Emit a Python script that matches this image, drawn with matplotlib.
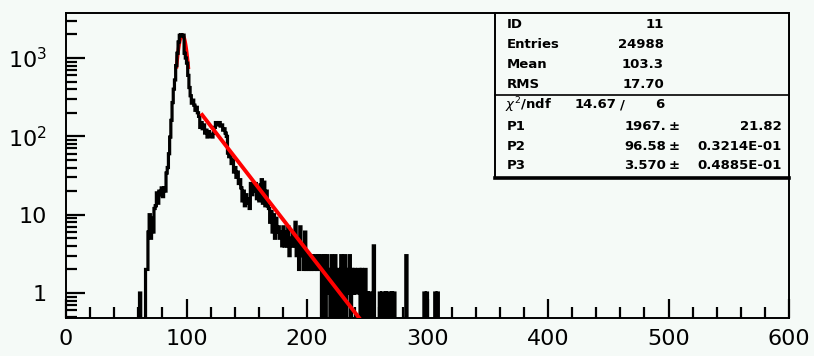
import matplotlib
matplotlib.use("Agg")
import matplotlib.pyplot as plt
import numpy as np
from matplotlib.patches import Rectangle
from matplotlib.ticker import FixedLocator, MultipleLocator, NullFormatter

# histogram: 1-unit bins starting at bin_lo, all other bins of 0..600 are empty
x_range = (0, 600)
bin_lo = 60
counts = [
    0, 1, 0, 0, 0, 0, 2, 2, 6, 10,                                # 60
    5, 9, 6, 12, 13, 19, 14, 20, 18, 22,                          # 70
    17, 22, 20, 34, 40, 60, 98, 160, 270, 400,                    # 80
    525, 800, 1150, 1600, 1950, 1980, 1900, 1960, 1150, 1000,     # 90
    860, 600, 420, 330, 265, 290, 250, 215, 235, 200,             # 100
    180, 130, 150, 125, 140, 110, 120, 98, 115, 100,              # 110
    105, 98, 110, 130, 150, 140, 145, 150, 135, 140,              # 120
    120, 125, 110, 100, 61, 55, 60, 45, 50, 35,                   # 130
    40, 30, 35, 25, 28, 22, 15, 20, 13, 18,                       # 140
    14, 16, 12, 25, 18, 24, 20, 25, 16, 22,                       # 150
    15, 24, 28, 14, 26, 13, 20, 13, 12, 8,                        # 160
    11, 6, 10, 5, 9, 6, 7, 5, 6, 4,                               # 170
    7, 4, 6, 4, 7, 3, 5, 4, 6, 4,                                 # 180
    8, 3, 5, 2, 7, 3, 4, 2, 6, 2,                                 # 190
    3, 2, 3, 2, 3, 2, 2, 3, 2, 3,                                 # 200
    2, 3, 0, 2, 3, 0, 3, 1, 2, 0,                                 # 210
    3, 0, 2, 3, 0, 2, 1, 0, 3, 0,                                 # 220
    2, 3, 0, 2, 1, 3, 0, 2, 1, 2,                                 # 230
    1, 1, 2, 2, 0, 2, 1, 0, 2, 0,                                 # 240
    1, 0, 1, 1, 0, 4, 0, 0, 0, 0,                                 # 250
    1, 0, 1, 1, 0, 1, 0, 1, 1, 0,                                 # 260
    1, 0, 1, 0, 0, 0, 0, 0, 0, 0,                                 # 270
    0, 0, 3, 0, 0, 0, 0, 0, 0, 0,                                 # 280
    0, 0, 0, 0, 0, 0, 0, 1, 0, 1,                                 # 290
    0, 0, 0, 0, 0, 0, 1, 0, 1, 0,                                 # 300
]

# fits: gaussian (parameters of the stats box) and the exponential tail line
gaus_p = (1967.0, 96.58, 3.570)
gaus_range = (91.7, 101.5)
expo_p = (10.41, -0.0458)   # ln(counts) = a + b*x
expo_range = (113.0, 250.0)

stats_rows = [("ID", "11"), ("Entries", "24988"), ("Mean", "103.3"), ("RMS", "17.70")]
chi2_ndf = ("14.67", "6")
par_rows = [("P1", "1967.", "21.82"),
            ("P2", "96.58", "0.3214E-01"),
            ("P3", "3.570", "0.4885E-01")]

BG = "#f5faf7"
W, H = 814, 356


def px(x, y):
    """pixel position (from top-left) -> figure fraction"""
    return x / W, 1 - y / H


fig = plt.figure(figsize=(W / 100, H / 100), dpi=100, facecolor=BG)
ax = fig.add_axes([66 / W, 1 - 318 / H, (789 - 66) / W, (318 - 13) / H])
ax.set_facecolor(BG)

nbins = x_range[1] - x_range[0]
vals = np.zeros(nbins)
vals[bin_lo:bin_lo + len(counts)] = counts
edges = np.arange(x_range[0], x_range[1] + 1)

# gaussian sits under the histogram (only its flanks show), exponential on top
xg = np.linspace(*gaus_range, 60)
ax.plot(xg, gaus_p[0] * np.exp(-0.5 * ((xg - gaus_p[1]) / gaus_p[2]) ** 2),
        color="red", lw=2.6, zorder=1)
ax.stairs(np.where(vals > 0, vals, 1e-2), edges, baseline=None,
          color="black", lw=2.3, zorder=2)
xe = np.linspace(*expo_range, 60)
ax.plot(xe, np.exp(expo_p[0] + expo_p[1] * xe), color="red", lw=2.8, zorder=3)

ax.set_yscale("log")
ax.set_xlim(*x_range)
ax.set_ylim(0.48, 3755)

ax.xaxis.set_major_locator(MultipleLocator(100))
ax.xaxis.set_minor_locator(MultipleLocator(20))
ax.yaxis.set_major_locator(FixedLocator([1, 10, 100, 1000]))
ax.set_yticklabels(["1", "10", "$10^{2}$", "$10^{3}$"])
minor = [m * d for d in (0.1, 1, 10, 100, 1000) for m in range(2, 10)]
ax.yaxis.set_minor_locator(FixedLocator([v for v in minor if 0.48 < v < 3755]))
ax.yaxis.set_minor_formatter(NullFormatter())
ax.tick_params(which="both", direction="in", top=False, right=False, width=1.6,
               labelsize=16, colors="black")
ax.tick_params(which="major", length=14)
ax.tick_params(which="minor", length=8)
ax.tick_params(axis="x", pad=8)
ax.tick_params(axis="y", pad=14)
for s in ax.spines.values():
    s.set_linewidth(1.4)

# statistics box
x0, y0 = px(495, 178)
x1, y1 = px(789, 13)
fig.patches.append(Rectangle((x0, y0), x1 - x0, y1 - y0, transform=fig.transFigure,
                             facecolor=BG, edgecolor="black", lw=1.4, zorder=5))
fig.add_artist(plt.Line2D([x0, x1], [px(0, 95)[1]] * 2, color="black", lw=1.2,
                          transform=fig.transFigure, zorder=6))
fig.add_artist(plt.Line2D([x0, x1], [px(0, 178)[1]] * 2, color="black", lw=2.6,
                          transform=fig.transFigure, zorder=6))

fs = 9.5
kw = dict(fontsize=fs, va="center", color="black", zorder=7, fontweight="bold")
for i, (name, value) in enumerate(stats_rows):
    y = 25 + 20 * i
    fig.text(*px(507, y), name, ha="left", **kw)
    fig.text(*px(664, y), value, ha="right", **kw)

y = 105
fig.text(*px(505, y), r"$\chi^2$/ndf", ha="left", **kw)
fig.text(*px(575, y), chi2_ndf[0], ha="left", **kw)
fig.text(*px(622, y), "/", ha="center", **kw)
fig.text(*px(664, y), chi2_ndf[1], ha="right", **kw)

for i, (name, value, err) in enumerate(par_rows):
    y = 126 + 20 * i
    fig.text(*px(507, y), name, ha="left", **kw)
    fig.text(*px(666, y), value, ha="right", **kw)
    fig.text(*px(674, y), "\u00b1", ha="center", **kw)
    fig.text(*px(782, y), err, ha="right", **kw)

fig.savefig("out.png", dpi=100, facecolor=BG)
